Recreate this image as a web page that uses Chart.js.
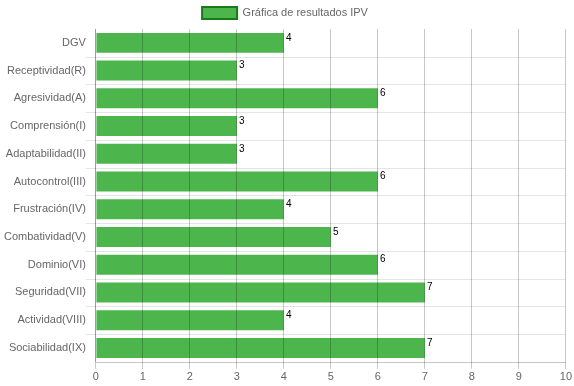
<!DOCTYPE html>
<html><head><meta charset="utf-8">
<script src="https://cdn.jsdelivr.net/npm/chart.js@4"></script>
<style>html,body{margin:0;padding:0;background:#fff}#wrap{width:574px;height:386px}</style>
</head><body><div id="wrap"><canvas id="c" width="574" height="386"></canvas></div>
<script>
const categories = ["DGV","Receptividad(R)","Agresividad(A)","Comprensión(I)","Adaptabilidad(II)","Autocontrol(III)","Frustración(IV)","Combatividad(V)","Dominio(VI)","Seguridad(VII)","Actividad(VIII)","Sociabilidad(IX)"];
const values = [4,3,6,3,3,6,4,5,6,7,4,7];
const seriesLabel = "Gráfica de resultados IPV";
const xTicks = [0,1,2,3,4,5,6,7,8,9,10];

Chart.defaults.font.family = "'Liberation Sans', Arial, sans-serif";
Chart.defaults.font.size = 11;
Chart.defaults.color = "#666";

// horizontal separators between categories (category boundaries from the y scale)
const categoryLines = {
  id: 'categoryLines',
  beforeDatasetsDraw(chart) {
    const ctx = chart.ctx, y = chart.scales.y, a = chart.chartArea;
    ctx.save();
    ctx.lineWidth = 1;
    for (let i = 1; i <= categories.length; i++) {
      const last = i === categories.length;
      const p = last ? Math.round(a.bottom) + 0.5
        : Math.round((y.getPixelForValue(i - 1) + y.getPixelForValue(i)) / 2) + 0.5;
      ctx.strokeStyle = last ? 'rgba(0,0,0,0.22)' : 'rgba(0,0,0,0.1)';
      ctx.beginPath();
      ctx.moveTo(last ? a.left : a.left - 10, p);
      ctx.lineTo(a.right, p);
      ctx.stroke();
    }
    ctx.restore();
  }
};

const valueLabels = {
  id: 'valueLabels',
  afterDatasetsDraw(chart) {
    const ctx = chart.ctx;
    const meta = chart.getDatasetMeta(0);
    ctx.save();
    ctx.font = "10px 'Liberation Sans', Arial, sans-serif";
    ctx.fillStyle = "#000";
    ctx.textAlign = "left";
    ctx.textBaseline = "middle";
    meta.data.forEach((bar, i) => {
      ctx.fillText(String(values[i]), bar.x + 2, bar.y - 5);
    });
    ctx.restore();
  }
};

new Chart(document.getElementById('c'), {
  type: 'bar',
  data: {
    labels: categories,
    datasets: [{
      label: seriesLabel,
      data: values,
      backgroundColor: 'rgba(76,181,76,1)',
      borderWidth: 0
    }]
  },
  options: {
    indexAxis: 'y',
    responsive: false,
    animation: false,
    layout: { padding: { left: 4, right: 8, top: 0, bottom: 0 } },
    plugins: {
      tooltip: { enabled: false },
      legend: {
        labels: {
          boxWidth: 35, boxHeight: 12, padding: 7,
          generateLabels(chart) {
            return [{ text: seriesLabel, fillStyle: 'rgba(76,181,76,1)', strokeStyle: '#1a7a1a', lineWidth: 2, datasetIndex: 0, fontColor: '#666' }];
          }
        }
      }
    },
    scales: {
      x: {
        min: 0, max: 10,
        afterBuildTicks(scale) { scale.ticks = xTicks.map(v => ({ value: v })); },
        grid: { color: 'rgba(0,0,0,0.22)', z: 1, tickLength: 7 },
        border: { display: false },
        ticks: { color: '#666', padding: 2 }
      },
      y: {
        grid: { display: true, drawOnChartArea: false, drawTicks: true, tickLength: 10, color: 'rgba(0,0,0,0)' },
        border: { color: 'rgba(0,0,0,0.22)' },
        ticks: { color: '#666', padding: 0 }
      }
    }
  },
  plugins: [categoryLines, valueLabels]
});
</script></body></html>
